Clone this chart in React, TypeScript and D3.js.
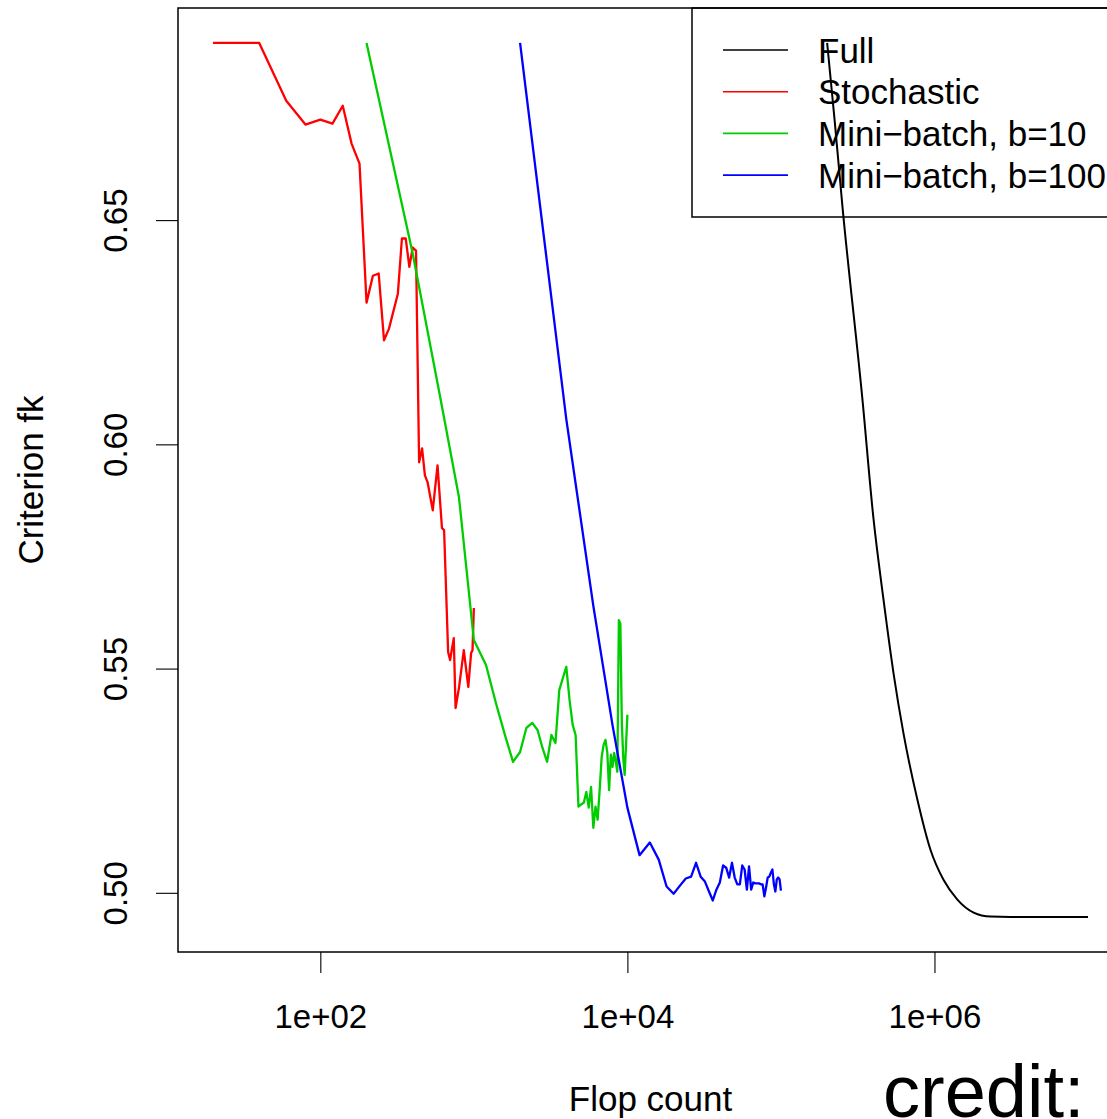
import React, { useEffect, useRef } from 'react';
import * as d3 from 'd3';

// [flop count, criterion]
const fullSeries: [number, number][] = [
  [2.0e5, 0.6895], [2.23e5, 0.6728], [2.52e5, 0.6528], [3.4e5, 0.6098], [4.0e5, 0.5837],
  [4.66e5, 0.5653], [5.41e5, 0.549], [6.28e5, 0.5356], [7.75e5, 0.5207], [9.42e5, 0.5096],
  [1.145e6, 0.5029], [1.41e6, 0.4985], [1.8e6, 0.4956], [2.32e6, 0.4947], [3.13e6, 0.4946],
  [1.0e7, 0.4946],
];

const stochSeries: [number, number][] = [
  [20, 0.6895], [40, 0.6895], [60, 0.6766], [80, 0.6713], [100, 0.6724], [120, 0.6715],
  [140, 0.6755], [160, 0.667], [180, 0.6626], [200, 0.6316], [220, 0.6376], [240, 0.6381],
  [260, 0.6232], [280, 0.6258], [320, 0.6336], [340, 0.6459], [360, 0.6459], [380, 0.6396],
  [400, 0.6439], [420, 0.6432], [440, 0.596], [460, 0.5991], [480, 0.5931], [500, 0.5915],
  [540, 0.5853], [580, 0.5953], [620, 0.5813], [640, 0.5809], [680, 0.5537], [700, 0.5519],
  [740, 0.5568], [760, 0.5412], [800, 0.5457], [860, 0.5541], [920, 0.5459], [960, 0.5535],
  [980, 0.5541], [1000, 0.5635],
];

const mb10Series: [number, number][] = [
  [200, 0.6895], [400, 0.6425], [600, 0.611], [800, 0.5882], [1000, 0.5564], [1200, 0.5508],
  [1400, 0.542], [1600, 0.535], [1800, 0.5292], [2000, 0.5314], [2200, 0.5368], [2400, 0.5379],
  [2600, 0.5363], [2800, 0.5323], [3000, 0.5292], [3200, 0.5352], [3400, 0.5334], [3600, 0.5452],
  [3800, 0.5479], [4000, 0.5504], [4200, 0.543], [4400, 0.5375], [4600, 0.5352], [4800, 0.5192],
  [5000, 0.5197], [5200, 0.5201], [5400, 0.5225], [5600, 0.519], [5800, 0.5236], [6000, 0.5145],
  [6200, 0.5192], [6400, 0.5163], [6600, 0.523], [6800, 0.5303], [7000, 0.533], [7200, 0.5341],
  [7400, 0.5312], [7600, 0.5229], [7800, 0.5308], [8000, 0.5281], [8200, 0.5312], [8400, 0.5292],
  [8600, 0.527], [8800, 0.5608], [9000, 0.56], [9200, 0.5379], [9400, 0.53], [9600, 0.5263],
  [9800, 0.533], [10000, 0.5397],
];

const mb100Series: [number, number][] = [
  [2000, 0.6895], [4000, 0.6056], [6000, 0.564], [8000, 0.5374], [10000, 0.519], [12000, 0.5084],
  [14000, 0.5112], [16000, 0.5074], [18000, 0.5014], [20000, 0.4998], [22000, 0.5016],
  [24000, 0.5032], [26000, 0.5036], [28000, 0.5067], [30000, 0.5036], [32000, 0.5025],
  [34000, 0.5003], [36000, 0.4983], [38000, 0.5007], [40000, 0.5023], [42000, 0.5061],
  [44000, 0.5056], [46000, 0.5034], [48000, 0.5067], [50000, 0.5034], [52000, 0.5019],
  [54000, 0.5019], [56000, 0.5061], [58000, 0.5052], [60000, 0.5007], [62000, 0.5059],
  [64000, 0.5007], [66000, 0.5023], [68000, 0.5021], [70000, 0.5021], [72000, 0.5021],
  [74000, 0.5019], [76000, 0.5019], [78000, 0.4992], [80000, 0.5012], [82000, 0.5034],
  [84000, 0.5036], [86000, 0.5045], [88000, 0.5052], [90000, 0.5019], [92000, 0.5003],
  [94000, 0.503], [96000, 0.5034], [98000, 0.503], [100000, 0.5005],
];

const legendLabels = ['Full', 'Stochastic', 'Mini\u2212batch, b=10', 'Mini\u2212batch, b=100'];
const seriesColors = ['#000000', '#ff0000', '#00cd00', '#0000ff'];

const xTickValues = [1e2, 1e4, 1e6];
const xTickLabels = ['1e+02', '1e+04', '1e+06'];
const yTickValues = [0.5, 0.55, 0.6, 0.65];

const FONT = '"Liberation Sans", Arial, Helvetica, sans-serif';

const App = () => {
  const chartRef = useRef<SVGSVGElement>(null);

  useEffect(() => {
    const svg = d3.select(chartRef.current);
    svg.selectAll('*').remove();

    const width = 1107;
    const height = 1119;
    // plot region (right edge falls outside the picture, like the reference)
    const left = 178, right = 1123, top = 8, bottom = 952;

    const allSeries = [fullSeries, stochSeries, mb10Series, mb100Series];
    const all = allSeries.flat();

    // R-style 4% axis expansion
    const lx = d3.extent(all, d => Math.log10(d[0])) as [number, number];
    const ly = d3.extent(all, d => d[1]) as [number, number];
    const px = (lx[1] - lx[0]) * 0.04;
    const py = (ly[1] - ly[0]) * 0.04;

    const x = d3.scaleLog()
      .domain([Math.pow(10, lx[0] - px), Math.pow(10, lx[1] + px)])
      .range([left, right]);
    const y = d3.scaleLinear()
      .domain([ly[0] - py, ly[1] + py])
      .range([bottom, top]);

    svg.attr('width', width).attr('height', height);

    // data lines
    allSeries.forEach((s, i) => {
      const line = d3.line<[number, number]>()
        .x(d => x(d[0]))
        .y(d => y(d[1]))
        .curve(i === 0 ? d3.curveMonotoneX : d3.curveLinear);
      svg.append('path')
        .datum(s)
        .attr('d', line)
        .attr('fill', 'none')
        .attr('stroke', seriesColors[i])
        .attr('stroke-width', i === 0 ? 2 : 2.3)
        .attr('stroke-linejoin', 'round');
    });

    // box
    svg.append('rect')
      .attr('x', left).attr('y', top)
      .attr('width', right - left).attr('height', bottom - top)
      .attr('fill', 'none').attr('stroke', '#000').attr('stroke-width', 1.5);

    // x axis
    const gx = svg.append('g')
      .attr('transform', `translate(0,${bottom})`)
      .call(d3.axisBottom(x).tickValues(xTickValues).tickSize(21)
        .tickFormat((_, i) => xTickLabels[i]));
    gx.select('.domain').remove();
    gx.selectAll('line').attr('stroke', '#000').attr('stroke-width', 1.1);
    gx.selectAll('text')
      .attr('y', 76).attr('dy', 0)
      .attr('font-family', FONT).attr('font-size', 33).attr('fill', '#000');

    // y axis, labels turned like R's las=0
    const gy = svg.append('g')
      .attr('transform', `translate(${left},0)`)
      .call(d3.axisLeft(y).tickValues(yTickValues).tickSize(22)
        .tickFormat(d3.format('.2f')));
    gy.select('.domain').remove();
    gy.selectAll('line').attr('stroke', '#000').attr('stroke-width', 1.1);
    gy.selectAll('text')
      .attr('transform', 'rotate(-90)')
      .attr('x', 0).attr('y', -51).attr('dy', 0)
      .attr('text-anchor', 'middle')
      .attr('font-family', FONT).attr('font-size', 33).attr('fill', '#000');

    // axis titles
    svg.append('text')
      .attr('x', (left + right) / 2).attr('y', 1111)
      .attr('text-anchor', 'middle')
      .attr('font-family', FONT).attr('font-size', 35)
      .text('Flop count');

    svg.append('text')
      .attr('transform', `translate(43,${(top + bottom) / 2}) rotate(-90)`)
      .attr('text-anchor', 'middle')
      .attr('font-family', FONT).attr('font-size', 35)
      .text('Criterion fk');

    // legend (no fill, the black curve shows through it)
    const legend = svg.append('g');
    legend.append('rect')
      .attr('x', 692).attr('y', top)
      .attr('width', right - 692).attr('height', 217 - top)
      .attr('fill', 'none').attr('stroke', '#000').attr('stroke-width', 1.5);

    legendLabels.forEach((label, i) => {
      const ly0 = 50 + i * 41.7;
      legend.append('line')
        .attr('x1', 723).attr('x2', 788)
        .attr('y1', ly0).attr('y2', ly0)
        .attr('stroke', seriesColors[i]).attr('stroke-width', 1.6);
      legend.append('text')
        .attr('x', 818).attr('y', ly0 + 12.5)
        .attr('font-family', FONT).attr('font-size', 35)
        .text(label);
    });

    // caption at the bottom edge
    svg.append('text')
      .attr('x', 883).attr('y', 1117)
      .attr('font-family', FONT).attr('font-size', 74)
      .text('credit:');
  }, []);

  return (
    <svg
      ref={chartRef}
      style={{ position: 'absolute', left: 0, top: 0, background: '#fff' }}
    />
  );
};

export default App;
